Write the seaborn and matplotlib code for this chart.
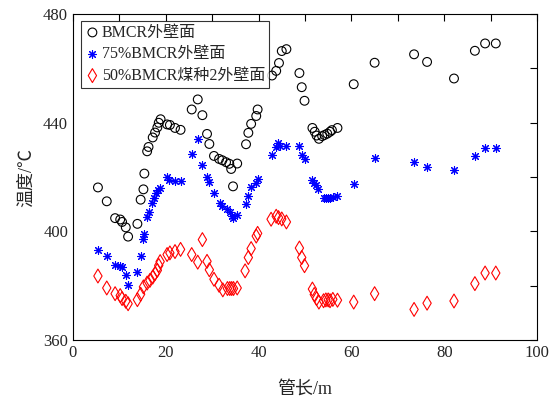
import matplotlib
matplotlib.use("Agg")
import matplotlib.pyplot as plt
import seaborn as sns
import numpy as np
from matplotlib.ticker import MultipleLocator

# ---------------- data ----------------
x_bmcr = [5.4, 7.3, 9.1, 10.2, 10.6, 11.4, 11.9, 13.9, 14.6, 15.2, 15.4, 16.0, 16.3, 17.2, 17.7,
          18.2, 18.5, 18.9, 20.3, 20.9, 22.0, 23.2, 25.6, 26.9, 27.9, 28.9, 29.4, 30.4, 31.5, 32.2,
          33.0, 33.7, 34.1, 34.5, 35.4, 37.3, 37.8, 38.4, 39.5, 39.8, 42.9, 43.8, 44.4, 45.0, 46.0,
          48.8, 49.3, 49.9, 51.6, 52.1, 52.5, 53.0, 53.7, 54.2, 54.8, 55.4, 55.8, 57.0, 60.5, 65.0,
          73.5, 76.3, 82.1, 86.6, 88.8, 91.1]
y_bmcr = [416.2, 411.1, 404.9, 404.4, 403.5, 401.5, 398.1, 402.8, 411.7, 415.5, 421.3, 429.5, 431.1,
          434.6, 436.4, 438.3, 440.0, 441.3, 439.4, 439.2, 438.1, 437.4, 444.9, 448.6, 442.8, 435.9,
          432.2, 427.8, 426.7, 426.2, 425.5, 424.9, 423.0, 416.6, 425.0, 432.1, 436.3, 439.6, 442.5,
          444.9, 457.4, 459.1, 462.0, 466.4, 467.1, 458.3, 453.1, 448.1, 438.1, 436.7, 435.3, 434.1,
          435.1, 435.5, 436.0, 436.7, 437.3, 438.1, 454.2, 462.1, 465.2, 462.4, 456.3, 466.5, 469.2,
          469.2]

x_75 = [5.4, 7.3, 9.1, 10.2, 10.6, 11.4, 11.9, 13.9, 14.6, 15.2, 15.3, 16.0, 16.3, 17.0, 17.5, 17.9,
        18.3, 18.8, 20.3, 20.8, 22.0, 23.2, 25.6, 26.9, 27.9, 28.9, 29.4, 30.4, 31.6, 32.2, 33.3,
        33.8, 34.2, 34.5, 35.4, 37.2, 37.8, 38.4, 39.5, 39.8, 42.9, 43.8, 44.1, 44.6, 46.0, 48.8,
        49.3, 49.9, 51.6, 52.0, 52.4, 52.9, 54.0, 54.5, 55.0, 55.4, 56.0, 57.0, 60.5, 65.0, 73.5,
        76.3, 82.1, 86.6, 88.8, 91.1]
y_75 = [393.0, 390.9, 387.7, 387.4, 386.8, 384.0, 380.4, 385.2, 391.0, 397.1, 399.2, 405.3, 407.1,
        410.5, 412.3, 414.1, 415.4, 415.9, 420.2, 419.0, 418.7, 418.5, 428.5, 434.2, 424.4, 420.1,
        418.1, 414.1, 410.4, 409.4, 408.2, 407.0, 405.6, 405.0, 406.0, 410.1, 413.2, 416.2, 418.0,
        419.3, 428.2, 431.1, 432.4, 431.4, 431.5, 431.4, 428.3, 426.5, 419.0, 418.0, 417.0, 415.8,
        412.3, 412.3, 412.3, 412.3, 412.7, 413.2, 417.6, 427.2, 425.5, 423.8, 422.7, 427.8, 430.9,
        430.9]

x_50 = [5.4, 7.3, 9.1, 10.2, 10.6, 11.4, 11.9, 13.9, 14.6, 15.2, 16.0, 16.6, 17.2, 17.7, 18.2, 18.5,
        18.8, 20.3, 20.9, 22.0, 23.2, 25.6, 26.9, 27.9, 28.9, 29.4, 30.4, 31.5, 32.3, 33.3, 33.8,
        34.2, 34.6, 35.4, 37.1, 37.8, 38.4, 39.5, 39.8, 42.7, 43.8, 44.3, 45.0, 46.0, 48.8, 49.3,
        49.9, 51.6, 52.0, 52.5, 53.0, 54.0, 54.5, 55.0, 55.4, 56.0, 57.0, 60.5, 65.0, 73.5, 76.3,
        82.1, 86.6, 88.8, 91.1]
y_50 = [383.6, 379.2, 377.1, 376.4, 375.3, 374.3, 373.4, 374.9, 376.9, 379.6, 381.0, 382.0, 383.2,
        384.5, 385.7, 387.5, 388.9, 391.5, 392.1, 392.6, 393.4, 391.5, 388.7, 397.0, 389.0, 385.9,
        382.4, 380.2, 378.5, 379.0, 379.0, 379.0, 379.0, 379.2, 385.5, 390.4, 393.7, 398.3, 399.3,
        404.5, 405.6, 405.1, 404.6, 403.5, 393.9, 390.4, 387.4, 378.8, 376.8, 375.3, 374.0, 374.5,
        374.8, 374.8, 374.5, 375.0, 374.7, 374.0, 377.1, 371.3, 373.6, 374.4, 380.8, 384.7, 384.7]

labels = ["BMCR外壁面", "75%BMCR外壁面", "50%BMCR煤种2外壁面"]
x_ticks = [0, 20, 40, 60, 80, 100]
y_ticks = [360, 400, 440, 480]

# ---------------- plot ----------------
sns.set_style("white")
FONT = ["Liberation Serif", "Noto Sans CJK SC"]
plt.rcParams["font.family"] = FONT
plt.rcParams["axes.unicode_minus"] = False

fig = plt.figure(figsize=(5.52, 4.03), dpi=100)
ax = fig.add_axes([0.132, 0.156, 0.841, 0.809])

sns.scatterplot(x=x_bmcr, y=y_bmcr, ax=ax, marker="o", s=40, facecolors="none",
                edgecolors="black", linewidth=0.8, label=labels[0])
sns.scatterplot(x=x_75, y=y_75, ax=ax, marker=(8, 2, 0), s=32, color="#0000ff",
                edgecolors="#2a2aff", linewidth=0.8, label=labels[1])
sns.scatterplot(x=x_50, y=y_50, ax=ax, marker="d", s=50, facecolors="none",
                edgecolors="#ff0000", linewidth=0.8, label=labels[2])

ax.set_xlim(0, 100)
ax.set_ylim(360, 480)
ax.set_xticks(x_ticks)
ax.set_yticks(y_ticks)
ax.xaxis.set_minor_locator(MultipleLocator(10))
ax.yaxis.set_minor_locator(MultipleLocator(20))
ax.tick_params(which="both", direction="in", top=True, right=True, color="black",
               labelsize=12, width=0.8)
ax.tick_params(which="major", length=5)
ax.tick_params(which="minor", length=5)
for sp in ax.spines.values():
    sp.set_color("black")
    sp.set_linewidth(0.8)

ax.set_xlabel("管长/m", fontsize=13, labelpad=14)
ax.set_ylabel("温度/℃", fontsize=13, labelpad=6)

leg = ax.legend(loc="upper left", fontsize=11.5, frameon=True, fancybox=False,
                edgecolor="black", borderpad=0.25, labelspacing=0.35, handletextpad=0.15,
                handlelength=0.9, borderaxespad=0.0, bbox_to_anchor=(0.018, 0.98))
leg.get_frame().set_linewidth(0.8)

fig.savefig("out.png", dpi=100)
